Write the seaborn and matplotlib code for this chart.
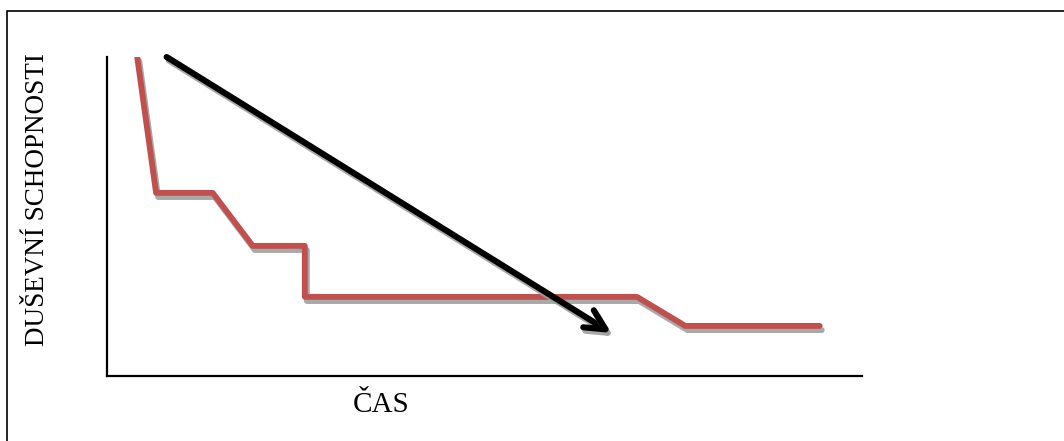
import matplotlib
matplotlib.use("Agg")
import matplotlib.pyplot as plt
import matplotlib.patheffects as pe
from matplotlib.patches import Rectangle
import pandas as pd
import seaborn as sns

# line values (arbitrary units 0-100)
time_x = [4.0, 6.5, 14.0, 19.3, 26.2, 26.2, 70.2, 76.6, 94.4]
ability_y = [100, 57.4, 57.4, 40.8, 40.8, 24.8, 24.8, 15.7, 15.7]

# trend arrow
arrow_start = (7.9, 100)
arrow_end = (66.8, 13.5)

sns.set_theme(style="white")
plt.rcParams["font.family"] = "Liberation Serif"

df = pd.DataFrame({"cas": time_x, "schopnosti": ability_y})

fig = plt.figure(figsize=(10.64, 4.41), dpi=100)
ax = fig.add_axes([107 / 1064, 1 - 376 / 441, 755 / 1064, 319 / 441])

shadow = [pe.SimpleLineShadow(offset=(1.5, -3), shadow_color="#a0a0a0", alpha=0.9), pe.Normal()]

sns.lineplot(data=df, x="cas", y="schopnosti", ax=ax, color="#c0504d",
             linewidth=4.2, sort=False, estimator=None, path_effects=shadow)

ax.annotate("", xy=arrow_end, xytext=arrow_start,
            arrowprops=dict(arrowstyle="->,head_length=1.2,head_width=0.6",
                            color="black", lw=4.4, shrinkA=0, shrinkB=0,
                            path_effects=[pe.SimpleLineShadow(offset=(1.5, -2.5), shadow_color="#a0a0a0", alpha=0.9), pe.Normal()]))

ax.set_xlim(0, 100)
ax.set_ylim(0, 100)
ax.set_xticks([])
ax.set_yticks([])
ax.set_xlabel("")
ax.set_ylabel("")
sns.despine(ax=ax)
for s in ["left", "bottom"]:
    ax.spines[s].set_color("black")
    ax.spines[s].set_linewidth(1.6)

fig.text(381 / 1064, 1 - 405 / 441, "ČAS", fontsize=21, ha="center", va="center",
         family="Liberation Serif", color="black")
fig.text(38 / 1064, 1 - 200 / 441, "DUŠEVNÍ SCHOPNOSTI", fontsize=19.5,
         rotation=90, ha="center", va="center",
         family="Liberation Serif", color="black")

# frame around the picture (cropped at right and bottom)
fig.patches.append(Rectangle((7 / 1064, -0.1), 1.2, 1 - 11 / 441 + 0.1,
                             transform=fig.transFigure, fill=False,
                             edgecolor="black", linewidth=1.2))

fig.savefig("out.png", dpi=100)
